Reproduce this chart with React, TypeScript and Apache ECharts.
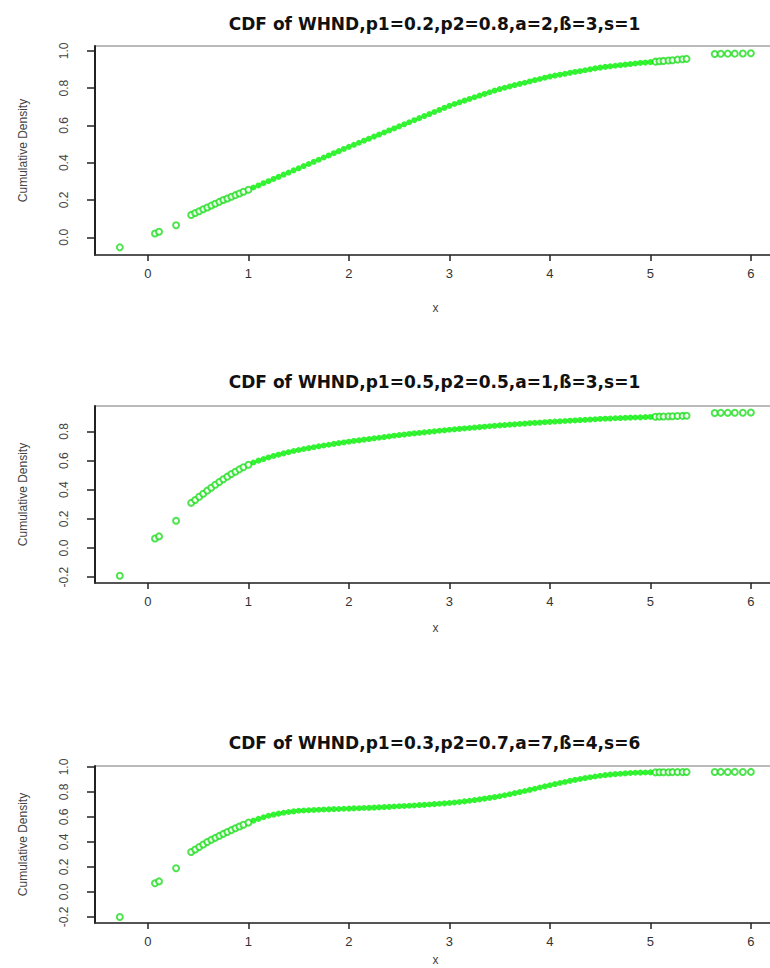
import React, { useEffect, useRef } from "react";
import * as echarts from "echarts";

// Shared sample points (x) and the CDF value read for each panel
const sampleX = [
  -0.28, 0.07, 0.11, 0.28,
  0.43, 0.47, 0.51, 0.55, 0.59, 0.63, 0.67, 0.71, 0.75, 0.79, 0.83, 0.87, 0.91, 0.95, 1.0,
  1.05, 1.1, 1.15, 1.2, 1.25, 1.3, 1.35, 1.4, 1.45, 1.5,
  1.55, 1.6, 1.65, 1.7, 1.75, 1.8, 1.85, 1.9, 1.95, 2.0,
  2.05, 2.1, 2.15, 2.2, 2.25, 2.3, 2.35, 2.4, 2.45, 2.5,
  2.55, 2.6, 2.65, 2.7, 2.75, 2.8, 2.85, 2.9, 2.95, 3.0,
  3.05, 3.1, 3.15, 3.2, 3.25, 3.3, 3.35, 3.4, 3.45, 3.5,
  3.55, 3.6, 3.65, 3.7, 3.75, 3.8, 3.85, 3.9, 3.95, 4.0,
  4.05, 4.1, 4.15, 4.2, 4.25, 4.3, 4.35, 4.4, 4.45, 4.5,
  4.55, 4.6, 4.65, 4.7, 4.75, 4.8, 4.85, 4.9, 4.95, 5.0,
  5.05, 5.09, 5.13, 5.18, 5.22, 5.27, 5.32, 5.36,
  5.64, 5.7, 5.77, 5.84, 5.92, 6.0,
];

const cdfPanel1 = [
  -0.054, 0.02, 0.03, 0.065,
  0.12, 0.13, 0.14, 0.15, 0.16, 0.17, 0.18, 0.19, 0.2, 0.208, 0.217, 0.226, 0.235, 0.244, 0.255,
  0.267, 0.278, 0.29, 0.301, 0.313, 0.324, 0.336, 0.347, 0.359, 0.37,
  0.382, 0.393, 0.405, 0.416, 0.428, 0.439, 0.451, 0.462, 0.474, 0.485,
  0.496, 0.507, 0.518, 0.529, 0.54, 0.551, 0.562, 0.573, 0.584, 0.595,
  0.606, 0.617, 0.628, 0.639, 0.65, 0.661, 0.672, 0.683, 0.694, 0.705,
  0.715, 0.724, 0.733, 0.742, 0.751, 0.76, 0.769, 0.778, 0.787, 0.795,
  0.802, 0.809, 0.816, 0.823, 0.829, 0.836, 0.843, 0.849, 0.856, 0.862,
  0.867, 0.872, 0.877, 0.882, 0.887, 0.891, 0.896, 0.901, 0.906, 0.91,
  0.914, 0.917, 0.92, 0.923, 0.926, 0.929, 0.932, 0.935, 0.937, 0.94,
  0.942, 0.944, 0.946, 0.948, 0.95, 0.953, 0.955, 0.957,
  0.983, 0.984, 0.985, 0.985, 0.986, 0.987,
];

const cdfPanel2 = [
  -0.19, 0.065, 0.08, 0.187,
  0.31, 0.33, 0.352, 0.373, 0.394, 0.414, 0.434, 0.453, 0.472, 0.49, 0.508, 0.524, 0.54, 0.555, 0.572,
  0.587, 0.6, 0.611, 0.622, 0.632, 0.641, 0.65, 0.658, 0.666, 0.673,
  0.68, 0.686, 0.692, 0.698, 0.704, 0.709, 0.715, 0.72, 0.725, 0.73,
  0.735, 0.739, 0.744, 0.748, 0.753, 0.757, 0.762, 0.766, 0.771, 0.775,
  0.779, 0.783, 0.787, 0.79, 0.794, 0.798, 0.801, 0.805, 0.808, 0.812,
  0.815, 0.818, 0.821, 0.824, 0.827, 0.83, 0.833, 0.836, 0.839, 0.842,
  0.844, 0.847, 0.849, 0.852, 0.854, 0.857, 0.859, 0.861, 0.864, 0.866,
  0.868, 0.87, 0.872, 0.874, 0.876, 0.878, 0.88, 0.882, 0.884, 0.886,
  0.888, 0.889, 0.891, 0.892, 0.894, 0.895, 0.896, 0.897, 0.899, 0.9,
  0.901, 0.902, 0.903, 0.904, 0.905, 0.906, 0.907, 0.908,
  0.927, 0.928, 0.928, 0.929, 0.929, 0.93,
];

const cdfPanel3 = [
  -0.2, 0.07, 0.085, 0.19,
  0.32, 0.34, 0.36, 0.38, 0.4, 0.417, 0.433, 0.449, 0.465, 0.48, 0.495, 0.51, 0.524, 0.538, 0.555,
  0.571, 0.585, 0.598, 0.61, 0.619, 0.627, 0.634, 0.64, 0.645, 0.65,
  0.652, 0.654, 0.656, 0.658, 0.66, 0.661, 0.663, 0.664, 0.666, 0.667,
  0.669, 0.67, 0.672, 0.673, 0.675, 0.677, 0.679, 0.681, 0.684, 0.686,
  0.688, 0.69, 0.692, 0.695, 0.697, 0.7, 0.703, 0.706, 0.709, 0.712,
  0.716, 0.72, 0.725, 0.73, 0.735, 0.741, 0.747, 0.753, 0.759, 0.766,
  0.774, 0.782, 0.791, 0.799, 0.808, 0.817, 0.826, 0.836, 0.845, 0.854,
  0.863, 0.872, 0.88, 0.889, 0.897, 0.904, 0.911, 0.918, 0.924, 0.93,
  0.935, 0.939, 0.943, 0.946, 0.949, 0.952, 0.954, 0.955, 0.956, 0.957,
  0.957, 0.958, 0.958, 0.958, 0.959, 0.959, 0.959, 0.96,
  0.96, 0.961, 0.96, 0.961, 0.96, 0.961,
];

const panelTitles = [
  "CDF of WHND,p1=0.2,p2=0.8,a=2,ß=3,s=1",
  "CDF of WHND,p1=0.5,p2=0.5,a=1,ß=3,s=1",
  "CDF of WHND,p1=0.3,p2=0.7,a=7,ß=4,s=6",
];

const xTickValues = [0, 1, 2, 3, 4, 5, 6];
const yTicksPanel1 = [0, 0.2, 0.4, 0.6, 0.8, 1.0];
const yTicksPanel2 = [-0.2, 0, 0.2, 0.4, 0.6, 0.8];
const yTicksPanel3 = [-0.2, 0, 0.2, 0.4, 0.6, 0.8, 1.0];

const xAxisTitle = "x";
const yAxisTitle = "Cumulative Density";

const panels = [
  { ys: cdfPanel1, yTicks: yTicksPanel1, top: 46, height: 209, yMin: -0.095, yMax: 1.026, titleY: 24, xNameGap: 47 },
  { ys: cdfPanel2, yTicks: yTicksPanel2, top: 406, height: 177, yMin: -0.24, yMax: 0.975, titleY: 382, xNameGap: 39 },
  { ys: cdfPanel3, yTicks: yTicksPanel3, top: 766, height: 157, yMin: -0.248, yMax: 1.008, titleY: 743, xNameGap: 31 },
];

const GRID_LEFT = 95;
const GRID_WIDTH = 681;
const FONT = "Liberation Sans, Arial, sans-serif";

export default function App() {
  const ref = useRef<HTMLDivElement>(null);

  useEffect(() => {
    document.body.style.margin = "0";
    if (!ref.current) return;
    const chart = echarts.init(ref.current, undefined, { renderer: "svg" });

    const grid = panels.map((p) => ({
      left: GRID_LEFT,
      top: p.top,
      width: GRID_WIDTH,
      height: p.height,
      show: true,
      borderColor: "#777",
      borderWidth: 1,
      backgroundColor: "transparent",
      outerBoundsMode: "none",
    }));

    const xAxis = panels.map((p, i) => ({
      type: "value",
      gridIndex: i,
      min: -0.527,
      max: 6.25,
      name: xAxisTitle,
      nameLocation: "middle",
      nameGap: p.xNameGap,
      nameTextStyle: { fontFamily: FONT, fontSize: 12, color: "#444" },
      splitLine: { show: false },
      axisLine: { show: true, onZero: false, lineStyle: { color: "#333", width: 1.5 } },
      axisTick: { show: true, inside: false, length: 6, customValues: xTickValues, lineStyle: { color: "#222", width: 1.5 } },
      axisLabel: {
        customValues: xTickValues,
        margin: 12,
        fontFamily: FONT,
        fontSize: 13,
        color: "#333",
        formatter: (v: number) => String(Math.round(v)),
      },
    }));

    const yAxis = panels.map((p, i) => ({
      type: "value",
      gridIndex: i,
      min: p.yMin,
      max: p.yMax,
      name: yAxisTitle,
      nameLocation: "middle",
      nameRotate: 90,
      nameGap: 66,
      nameTextStyle: { fontFamily: FONT, fontSize: 12, color: "#444" },
      splitLine: { show: false },
      axisLine: { show: true, onZero: false, lineStyle: { color: "#222", width: 2 } },
      axisTick: { show: true, inside: false, length: 8, customValues: p.yTicks, lineStyle: { color: "#222", width: 1.5 } },
      axisLabel: {
        customValues: p.yTicks,
        rotate: 90,
        margin: 25,
        fontFamily: FONT,
        fontSize: 12,
        color: "#444",
        formatter: (v: number) => v.toFixed(1),
      },
    }));

    const series: any[] = [];
    panels.forEach((p, i) => {
      const pts = sampleX.map((x, k) => [x, p.ys[k]]);
      const dense = pts.filter((d) => d[0] >= 1.02 && d[0] <= 5.02);
      const sparse = pts.filter((d) => d[0] < 1.02 || d[0] > 5.02);
      series.push({
        type: "scatter",
        xAxisIndex: i,
        yAxisIndex: i,
        data: sparse,
        symbol: "emptyCircle",
        symbolSize: 6,
        itemStyle: { color: "#22dd22", borderColor: "#22dd22", borderWidth: 1 },
        silent: true,
      });
      series.push({
        type: "scatter",
        xAxisIndex: i,
        yAxisIndex: i,
        data: dense,
        symbol: "circle",
        symbolSize: 6,
        itemStyle: { color: "#00f000" },
        silent: true,
      });
    });

    const graphic = panels.map((p, i) => ({
      type: "text",
      x: GRID_LEFT + GRID_WIDTH / 2 - 1,
      y: p.titleY,
      style: {
        text: panelTitles[i],
        align: "center",
        verticalAlign: "middle",
        font: "bold 17px 'DejaVu Sans', sans-serif",
        fill: "#111",
      },
    }));

    chart.setOption({
      animation: false,
      backgroundColor: "#fff",
      grid,
      xAxis,
      yAxis,
      series,
      graphic,
    } as any);

    return () => chart.dispose();
  }, []);

  return (
    <div style={{ width: 770, height: 968, overflow: "hidden", position: "relative", background: "#fff" }}>
      <div ref={ref} style={{ width: 790, height: 968 }} />
    </div>
  );
}
